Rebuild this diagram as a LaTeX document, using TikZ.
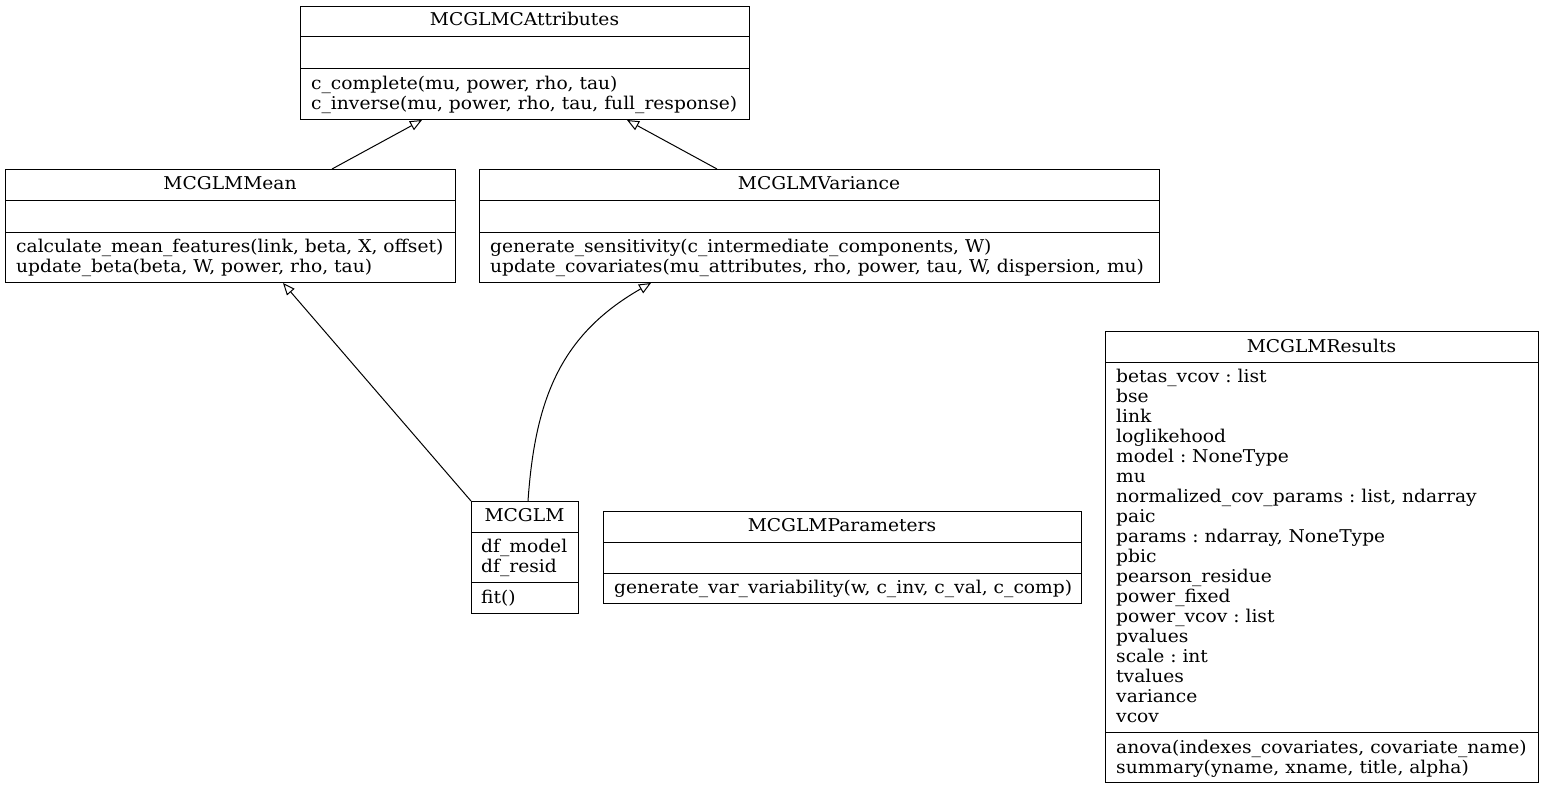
\documentclass[tikz,border=0pt]{standalone}
\usepackage{fontspec}
\setmainfont{DejaVu Serif}[FakeStretch=1.06]
\usetikzlibrary{arrows.meta}
\frenchspacing
\newcommand\umldiv[2]{\draw[line width=1pt] ([yshift=-#2pt]#1.north west) -- ([yshift=-#2pt]#1.north east);}
\begin{document}
\begin{tikzpicture}[x=1pt,y=-1pt,
  box/.style={draw, line width=1pt, rectangle, inner sep=0pt, anchor=north west},
  txt/.style={anchor=base west, inner sep=0pt, font=\fontsize{17.6}{20}\selectfont},
  ttl/.style={anchor=base, inner sep=0pt, font=\fontsize{17.6}{20}\selectfont},
  inh/.style={-{Triangle[open,length=12pt,width=10pt]}, line width=1pt}]
\useasboundingbox (0,0) rectangle (1544,789);
\fill[white] (0,0) rectangle (1544,789);
% boxes
\node[box, minimum width=449pt, minimum height=113pt] (attr) at (300,6) {};
\node[box, minimum width=450pt, minimum height=113pt] (mean) at (5,169) {};
\node[box, minimum width=680pt, minimum height=113pt] (var) at (479,169) {};
\node[box, minimum width=107pt, minimum height=112pt] (glm) at (471,501) {};
\node[box, minimum width=478pt, minimum height=92pt] (par) at (603,511) {};
\node[box, minimum width=433pt, minimum height=451pt] (res) at (1105,331) {};
\umldiv{attr}{31}\umldiv{attr}{63}
\umldiv{mean}{31}\umldiv{mean}{63}
\umldiv{var}{31}\umldiv{var}{63}
\umldiv{glm}{31}\umldiv{glm}{81}
\umldiv{par}{31}\umldiv{par}{62}
\umldiv{res}{31}\umldiv{res}{401}
% texts
\node[ttl] (attrT) at (524.5,26) {MCGLMCAttributes};
\node[txt] (attrM1) at (311,90) {c\_complete(mu, power, rho, tau)};
\node[txt] (attrM2) at (311,110) {c\_inverse(mu, power, rho, tau, full\_response)};
\node[ttl] (meanT) at (230,189) {MCGLMMean};
\node[txt] (meanM1) at (16,252) {calculate\_mean\_features(link, beta, X, offset)};
\node[txt] (meanM2) at (16,272) {update\_beta(beta, W, power, rho, tau)};
\node[ttl] (varT) at (819,189) {MCGLMVariance};
\node[txt] (varM1) at (490,252) {generate\_sensitivity(c\_intermediate\_components, W)};
\node[txt] (varM2) at (490,272) {update\_covariates(mu\_attributes, rho, power, tau, W, dispersion, mu)};
\node[ttl] (glmT) at (524.5,521) {MCGLM};
\node[txt] (glmA1) at (481,552) {df\_model};
\node[txt] (glmA2) at (481,572) {df\_resid};
\node[txt] (glmM1) at (481,603) {fit()};
\node[ttl] (parT) at (842,531) {MCGLMParameters};
\node[txt] (parM1) at (614,593) {generate\_var\_variability(w, c\_inv, c\_val, c\_comp)};
\node[ttl] (resT) at (1321.5,352) {MCGLMResults};
\foreach \t [count=\i from 0] in {betas\_vcov : list, bse, link, loglikehood, model : NoneType, mu, {normalized\_cov\_params : list, ndarray}, paic, {params : ndarray, NoneType}, pbic, pearson\_residue, power\_fixed, power\_vcov : list, pvalues, scale : int, tvalues, variance, vcov}
  \node[txt] (resA\i) at (1116,382+20*\i) {\t};
\node[txt] (resM1) at (1116,753) {anova(indexes\_covariates, covariate\_name)};
\node[txt] (resM2) at (1116,773) {summary(yname, xname, title, alpha)};
% edges
\draw[inh] ([xshift=327pt]mean.north west) -- ([xshift=122pt]attr.south west);
\draw[inh] ([xshift=238pt]var.north west) -- ([xshift=327pt]attr.south west);
\draw[inh] (glm.north west) -- ([xshift=278pt]mean.south west);
\draw[inh] ([xshift=57pt]glm.north west) .. controls (535,400) and (560,335) .. ([xshift=172pt]var.south west);
\end{tikzpicture}
\end{document}
